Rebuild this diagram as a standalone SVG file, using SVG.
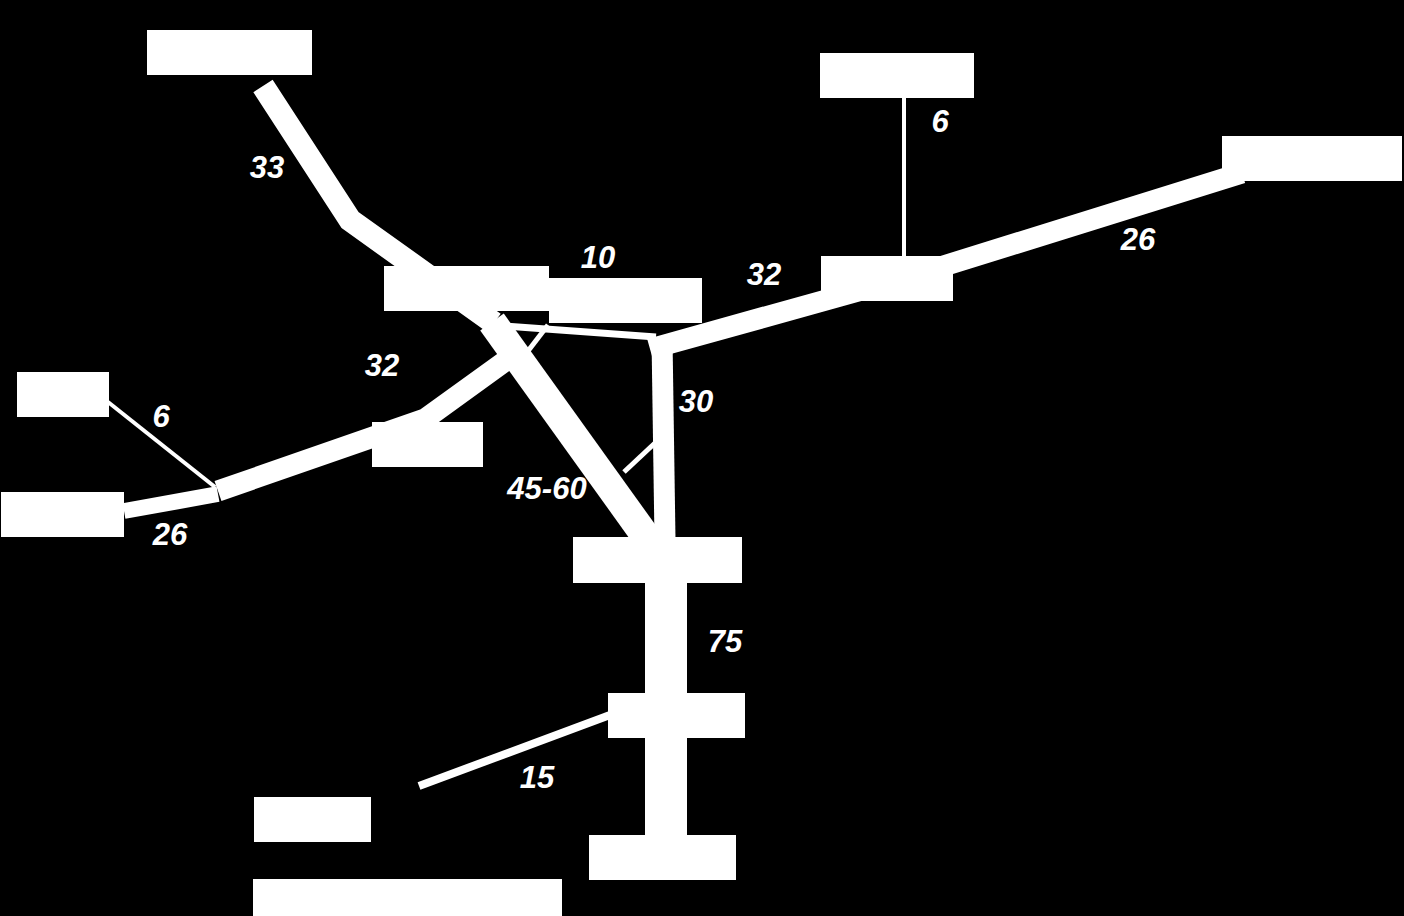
<svg xmlns="http://www.w3.org/2000/svg" width="1404" height="916" viewBox="0 0 1404 916">
<style>
.n{fill:#fff}
.c{stroke:#fff;fill:none;stroke-linecap:butt;stroke-linejoin:miter}
.t{fill:#fff;font-family:"Liberation Sans",Arial,sans-serif;font-weight:bold;font-style:italic;font-size:31px;text-anchor:middle}
</style>
<rect width="1404" height="916" fill="#000"/>
<g id="connectors">
<polyline class="c" stroke-width="23" points="263,86 350,220 494,323"/>
<line class="c" stroke-width="29" x1="492" y1="322" x2="652" y2="545"/>
<polyline class="c" stroke-width="21" points="218,491 425,419 522,349"/>
<line class="c" stroke-width="16" x1="124" y1="511" x2="218" y2="494"/>
<line class="c" stroke-width="4" x1="108" y1="402" x2="215" y2="487"/>
<line class="c" stroke-width="7" x1="503" y1="326" x2="656" y2="337"/>
<line class="c" stroke-width="5" x1="528" y1="351" x2="548" y2="325"/>
<polyline class="c" stroke-width="21" points="650,349 905,278 1242,173"/>
<line class="c" stroke-width="4" x1="904" y1="97" x2="904" y2="258"/>
<line class="c" stroke-width="21" x1="662" y1="338" x2="665" y2="540"/>
<line class="c" stroke-width="5" x1="624" y1="472" x2="655" y2="443"/>
<line class="c" stroke-width="42" x1="666" y1="580" x2="666" y2="837"/>
<line class="c" stroke-width="8" x1="419" y1="786" x2="610" y2="715"/>
</g>
<g id="n1"><rect class="n" x="147" y="30" width="165" height="45"/></g>
<g id="n2"><rect class="n" x="820" y="53" width="154" height="45"/></g>
<g id="n3"><rect class="n" x="1222" y="136" width="180" height="45"/></g>
<g id="n4"><rect class="n" x="821" y="256" width="132" height="45"/></g>
<g id="n5"><rect class="n" x="384" y="266" width="165" height="45"/></g>
<g id="n6"><rect class="n" x="549" y="278" width="153" height="45"/></g>
<g id="n7"><rect class="n" x="17" y="372" width="92" height="45"/></g>
<g id="n8"><rect class="n" x="372" y="422" width="111" height="45"/></g>
<g id="n9"><rect class="n" x="1" y="492" width="123" height="45"/></g>
<g id="n10"><rect class="n" x="573" y="537" width="169" height="46"/></g>
<g id="n11"><rect class="n" x="608" y="693" width="137" height="45"/></g>
<g id="n12"><rect class="n" x="589" y="835" width="147" height="45"/></g>
<g id="n13"><rect class="n" x="254" y="797" width="117" height="45"/></g>
<g id="n14"><rect class="n" x="253" y="879" width="309" height="37"/></g>
<g id="labels">
<text class="t" x="267" y="178">33</text>
<text class="t" x="598" y="268">10</text>
<text class="t" x="764" y="285">32</text>
<text class="t" x="1138" y="250">26</text>
<text class="t" x="940" y="132">6</text>
<text class="t" x="382" y="376">32</text>
<text class="t" x="161" y="427">6</text>
<text class="t" x="170" y="545">26</text>
<text class="t" x="696" y="412">30</text>
<text class="t" x="547" y="499">45-60</text>
<text class="t" x="725" y="652">75</text>
<text class="t" x="537" y="788">15</text>
</g>
</svg>
